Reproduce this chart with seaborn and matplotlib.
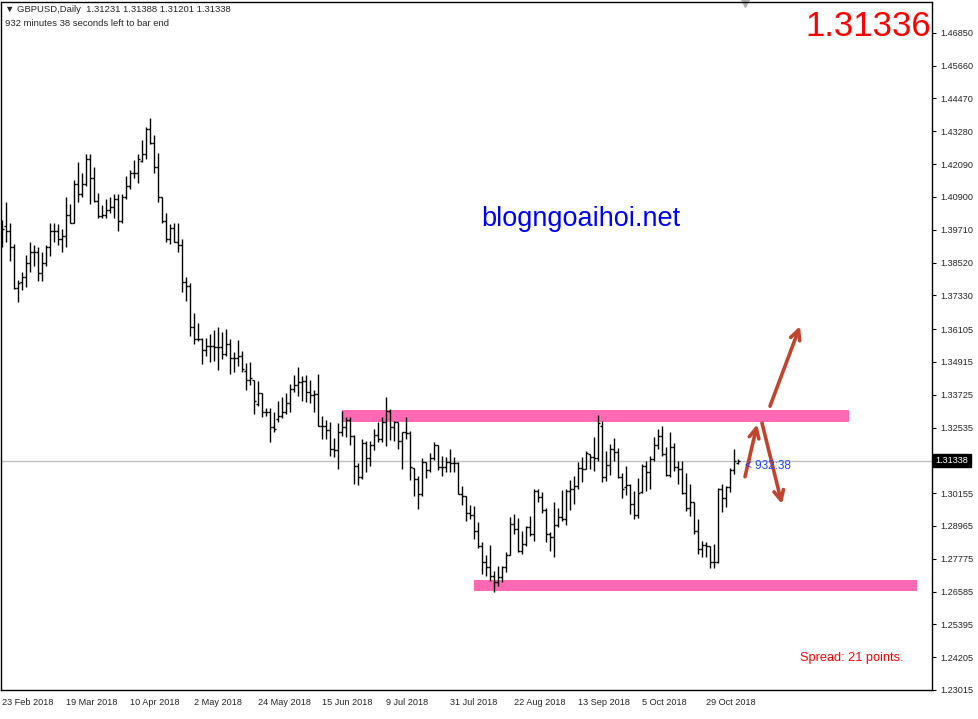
import numpy as np
import pandas as pd
import matplotlib
matplotlib.use("Agg")
import matplotlib.pyplot as plt
from matplotlib.patches import Rectangle
import matplotlib.transforms as mtransforms
import seaborn as sns

# GBPUSD daily bars
first_day = "2018-02-23"
opens = [
    1.3936, 1.3983, 1.3965, 1.3910, 1.3758, 1.3780, 1.3798, 1.3849, 1.3889, 1.3889,
    1.3813, 1.3849, 1.3907, 1.3965, 1.3965, 1.3936, 1.3947, 1.4026, 1.3997, 1.4138,
    1.4102, 1.4138, 1.4229, 1.4157, 1.4077, 1.4019, 1.4023, 1.4044, 1.4055, 1.4081,
    1.4001, 1.4088, 1.4128, 1.4175, 1.4178, 1.4222, 1.4247, 1.4338, 1.4287, 1.4200,
    1.4088, 1.4001, 1.3939, 1.3979, 1.3925, 1.3914, 1.3780, 1.3766, 1.3617, 1.3574,
    1.3574, 1.3534, 1.3548, 1.3548, 1.3545, 1.3545, 1.3519, 1.3556, 1.3505, 1.3505,
    1.3512, 1.3458, 1.3425, 1.3425, 1.3338, 1.3378, 1.3309, 1.3309, 1.3255, 1.3284,
    1.3295, 1.3309, 1.3342, 1.3393, 1.3407, 1.3418, 1.3422, 1.3382, 1.3371, 1.3375,
    1.3259, 1.3259, 1.3244, 1.3175, 1.3172, 1.3237, 1.3255, 1.3280, 1.3223, 1.3114,
    1.3074, 1.3197, 1.3143, 1.3190, 1.3226, 1.3212, 1.3273, 1.3313, 1.3255, 1.3273,
    1.3204, 1.3237, 1.3233, 1.3107, 1.3067, 1.3013, 1.3128, 1.3099, 1.3143, 1.3190,
    1.3110, 1.3110, 1.3128, 1.3125, 1.3125, 1.3013, 1.3005, 1.2944, 1.2937, 1.2879,
    1.2824, 1.2766, 1.2748, 1.2716, 1.2694, 1.2712, 1.2748, 1.2792, 1.2904, 1.2886,
    1.2806, 1.2832, 1.2893, 1.2868, 1.3023, 1.3002, 1.2955, 1.2868, 1.2857, 1.2900,
    1.2929, 1.2922, 1.3023, 1.3031, 1.3041, 1.3107, 1.3103, 1.3157, 1.3147, 1.3143,
    1.3259, 1.3074, 1.3118, 1.3175, 1.3165, 1.3074, 1.3038, 1.3045, 1.2976, 1.2937,
    1.3020, 1.3114, 1.3092, 1.3139, 1.3190, 1.3223, 1.3157, 1.3081, 1.3183, 1.3110,
    1.3103, 1.3016, 1.2962, 1.2984, 1.2879, 1.2814, 1.2828, 1.2824, 1.2766, 1.2766,
    1.3031, 1.2998, 1.3038, 1.3099, 1.31231,
]
highs = [
    1.4005, 1.4070, 1.3997, 1.3918, 1.3787, 1.3816, 1.3878, 1.3928, 1.3914, 1.3910,
    1.3889, 1.3914, 1.3997, 1.3997, 1.3990, 1.3975, 1.4088, 1.4066, 1.4153, 1.4218,
    1.4178, 1.4247, 1.4247, 1.4200, 1.4106, 1.4059, 1.4084, 1.4091, 1.4099, 1.4099,
    1.4102, 1.4167, 1.4189, 1.4225, 1.4247, 1.4298, 1.4345, 1.4377, 1.4316, 1.4251,
    1.4091, 1.4033, 1.3990, 1.3997, 1.3997, 1.3936, 1.3798, 1.3776, 1.3668, 1.3632,
    1.3577, 1.3577, 1.3592, 1.3606, 1.3617, 1.3599, 1.3610, 1.3574, 1.3527, 1.3570,
    1.3530, 1.3487, 1.3490, 1.3425, 1.3422, 1.3378, 1.3324, 1.3324, 1.3309, 1.3349,
    1.3364, 1.3378, 1.3411, 1.3443, 1.3472, 1.3440, 1.3443, 1.3425, 1.3389, 1.3447,
    1.3295, 1.3280, 1.3273, 1.3215, 1.3270, 1.3313, 1.3291, 1.3291, 1.3226, 1.3125,
    1.3212, 1.3204, 1.3204, 1.3248, 1.3273, 1.3291, 1.3364, 1.3320, 1.3277, 1.3273,
    1.3237, 1.3291, 1.3240, 1.3107, 1.3078, 1.3143, 1.3128, 1.3161, 1.3201, 1.3190,
    1.3150, 1.3147, 1.3175, 1.3147, 1.3128, 1.3041, 1.3005, 1.2973, 1.2969, 1.2911,
    1.2839, 1.2792, 1.2828, 1.2734, 1.2752, 1.2752, 1.2803, 1.2929, 1.2940, 1.2926,
    1.2879, 1.2897, 1.2933, 1.3031, 1.3031, 1.3020, 1.2962, 1.2875, 1.2984, 1.2962,
    1.3027, 1.3031, 1.3063, 1.3078, 1.3128, 1.3147, 1.3168, 1.3157, 1.3219, 1.3299,
    1.3277, 1.3168, 1.3194, 1.3215, 1.3179, 1.3089, 1.3114, 1.3049, 1.3023, 1.3070,
    1.3121, 1.3132, 1.3150, 1.3219, 1.3248, 1.3259, 1.3183, 1.3237, 1.3197, 1.3132,
    1.3132, 1.3089, 1.3049, 1.2984, 1.2922, 1.2842, 1.2839, 1.2824, 1.2832, 1.3034,
    1.3049, 1.3041, 1.3107, 1.3175, 1.31388,
]
lows = [
    1.3907, 1.3925, 1.3856, 1.3755, 1.3708, 1.3751, 1.3762, 1.3816, 1.3838, 1.3784,
    1.3784, 1.3838, 1.3874, 1.3925, 1.3914, 1.3889, 1.3910, 1.3994, 1.3997, 1.4073,
    1.4088, 1.4131, 1.4066, 1.4073, 1.4012, 1.4012, 1.4015, 1.4033, 1.4012, 1.3965,
    1.3997, 1.4081, 1.4117, 1.4160, 1.4142, 1.4218, 1.4229, 1.4283, 1.4175, 1.4070,
    1.3997, 1.3925, 1.3918, 1.3925, 1.3892, 1.3744, 1.3711, 1.3585, 1.3556, 1.3566,
    1.3483, 1.3512, 1.3490, 1.3494, 1.3461, 1.3501, 1.3512, 1.3447, 1.3454, 1.3476,
    1.3454, 1.3389, 1.3407, 1.3302, 1.3331, 1.3291, 1.3295, 1.3201, 1.3237, 1.3273,
    1.3288, 1.3302, 1.3309, 1.3382, 1.3367, 1.3349, 1.3346, 1.3342, 1.3309, 1.3259,
    1.3212, 1.3212, 1.3150, 1.3147, 1.3103, 1.3223, 1.3219, 1.3190, 1.3049, 1.3045,
    1.3067, 1.3092, 1.3114, 1.3172, 1.3201, 1.3201, 1.3186, 1.3208, 1.3204, 1.3175,
    1.3103, 1.3212, 1.3063, 1.3005, 1.2958, 1.3005, 1.3070, 1.3092, 1.3136, 1.3099,
    1.3078, 1.3092, 1.3092, 1.3092, 1.3013, 1.2973, 1.2915, 1.2922, 1.2850, 1.2817,
    1.2723, 1.2716, 1.2698, 1.2658, 1.2680, 1.2694, 1.2730, 1.2792, 1.2868, 1.2803,
    1.2795, 1.2824, 1.2861, 1.2842, 1.2984, 1.2944, 1.2839, 1.2806, 1.2784, 1.2893,
    1.2915, 1.2900, 1.2955, 1.2976, 1.3031, 1.3056, 1.3103, 1.3103, 1.3096, 1.3132,
    1.3056, 1.3060, 1.3081, 1.3132, 1.3070, 1.2998, 1.3009, 1.2940, 1.2922, 1.2926,
    1.3016, 1.3023, 1.3031, 1.3132, 1.3175, 1.3150, 1.3078, 1.3074, 1.3096, 1.3049,
    1.3013, 1.2951, 1.2933, 1.2868, 1.2795, 1.2784, 1.2784, 1.2745, 1.2745, 1.2763,
    1.2947, 1.2965, 1.3020, 1.3085, 1.31201,
]
closes = [
    1.3972, 1.3965, 1.3910, 1.3758, 1.3776, 1.3798, 1.3849, 1.3889, 1.3889, 1.3813,
    1.3849, 1.3907, 1.3965, 1.3965, 1.3936, 1.3947, 1.4026, 1.3997, 1.4138, 1.4102,
    1.4138, 1.4229, 1.4157, 1.4077, 1.4019, 1.4023, 1.4044, 1.4055, 1.4081, 1.4001,
    1.4088, 1.4128, 1.4175, 1.4178, 1.4229, 1.4247, 1.4338, 1.4287, 1.4200, 1.4088,
    1.4001, 1.3939, 1.3979, 1.3925, 1.3914, 1.3780, 1.3766, 1.3617, 1.3574, 1.3574,
    1.3534, 1.3548, 1.3548, 1.3545, 1.3545, 1.3519, 1.3556, 1.3505, 1.3505, 1.3512,
    1.3465, 1.3425, 1.3432, 1.3349, 1.3378, 1.3309, 1.3309, 1.3255, 1.3248, 1.3295,
    1.3309, 1.3342, 1.3393, 1.3407, 1.3418, 1.3422, 1.3382, 1.3371, 1.3375, 1.3259,
    1.3259, 1.3244, 1.3175, 1.3172, 1.3237, 1.3255, 1.3280, 1.3223, 1.3114, 1.3074,
    1.3197, 1.3143, 1.3190, 1.3226, 1.3212, 1.3273, 1.3313, 1.3255, 1.3273, 1.3204,
    1.3237, 1.3233, 1.3110, 1.3067, 1.3013, 1.3128, 1.3099, 1.3143, 1.3190, 1.3110,
    1.3110, 1.3128, 1.3125, 1.3125, 1.3013, 1.3005, 1.2944, 1.2937, 1.2879, 1.2824,
    1.2766, 1.2748, 1.2716, 1.2694, 1.2712, 1.2748, 1.2792, 1.2904, 1.2886, 1.2806,
    1.2832, 1.2893, 1.2868, 1.3023, 1.3002, 1.2955, 1.2868, 1.2857, 1.2900, 1.2929,
    1.2922, 1.3023, 1.3031, 1.3041, 1.3107, 1.3103, 1.3161, 1.3147, 1.3143, 1.3270,
    1.3074, 1.3118, 1.3175, 1.3165, 1.3074, 1.3031, 1.3045, 1.2976, 1.2937, 1.3016,
    1.3114, 1.3092, 1.3139, 1.3190, 1.3223, 1.3157, 1.3081, 1.3183, 1.3110, 1.3103,
    1.3016, 1.2962, 1.2984, 1.2879, 1.2814, 1.2828, 1.2824, 1.2766, 1.2766, 1.3031,
    1.2998, 1.3038, 1.3099, 1.3132, 1.31338,
]

# right price scale as printed by the terminal
price_ticks = [1.46850, 1.45660, 1.44470, 1.43280, 1.42090, 1.40900, 1.39710,
               1.38520, 1.37330, 1.36105, 1.34915, 1.33725, 1.32535, 1.30155,
               1.28965, 1.27775, 1.26585, 1.25395, 1.24205, 1.23015]

# drawn zones: (first bar, last bar, bottom price, top price)
zones = [(85, 211.75, 1.3273, 1.3317), (118, 228.75, 1.2662, 1.2702)]
# hand drawn arrows: (bar, price) -> (bar, price)
arrows = [((185.75, 1.3075), (188.8, 1.3265)),
          ((190.0, 1.3270), (195.0, 1.2976)),
          ((192.0, 1.3331), (199.5, 1.3621))]

bid_price = 1.31336
timer_text = "932:38"
spread_points = 21

df = pd.DataFrame({"date": pd.bdate_range(first_day, periods=len(opens)),
                   "open": opens, "high": highs, "low": lows, "close": closes})
df["x"] = np.arange(len(df))

sns.set_style("white")
plt.rcParams["font.family"] = ["Liberation Sans", "DejaVu Sans"]

fig = plt.figure(figsize=(9.79, 7.19), dpi=100)
ax = fig.add_axes([1 / 979, 29 / 719, 931 / 979, 688 / 719])

# bars
ax.vlines(df["x"], df["low"], df["high"], color="black", lw=1.0)
ax.hlines(df["open"], df["x"] - 0.45, df["x"], color="black", lw=1.0)
ax.hlines(df["close"], df["x"], df["x"] + 0.45, color="black", lw=1.0)

for x0, x1, lo, hi in zones:
    ax.add_patch(Rectangle((x0, lo), x1 - x0, hi - lo, color="#ff69b4", lw=0, zorder=0.5))

last = df["close"].iloc[-1]
ax.axhline(last, color="#c0c0c0", lw=1, zorder=0.4)

for (sx, sy), (ex, ey) in arrows:
    ax.annotate("", xy=(ex, ey), xytext=(sx, sy),
                arrowprops=dict(arrowstyle="->,head_length=0.7,head_width=0.35",
                                color="#c0452e", lw=2.6, shrinkA=0, shrinkB=0))

ax.set_xlim(-0.25, 232.5)
ax.set_ylim(1.2307, 1.4797)

# x axis: date every 16 bars, left aligned at the tick
xt = df["x"][::16]
ax.set_xticks(xt)
ax.set_xticklabels([f"{d.day} {d:%b %Y}" for d in df["date"][::16]],
                   ha="left", fontsize=6.6)
ax.tick_params(axis="x", direction="out", length=4, width=0.8, pad=2, color="black")

ax.yaxis.tick_right()
ax.set_yticks(price_ticks)
ax.set_yticklabels([f"{p:.5f}" for p in price_ticks], fontsize=6.6)
ax.tick_params(axis="y", direction="out", length=3, width=0.8, pad=3, color="black")

for s in ax.spines.values():
    s.set_visible(True)
    s.set_color("black")
    s.set_linewidth(1)

# current price box on the scale
trans = mtransforms.blended_transform_factory(ax.transAxes, ax.transData)
ax.text(1.004, last, f"{last:.5f}", transform=trans, color="white", fontsize=6.6,
        va="center", ha="left",
        bbox=dict(boxstyle="square,pad=0.25", fc="black", ec="black"))

# timer next to the last bar
ax.text(185.8, last - 0.0018, f"< {timer_text}", color="#2343ff", fontsize=8.5,
        va="center", ha="left")

# chart header
ax.text(0.004, 0.996, "▼ GBPUSD,Daily  " + " ".join(f"{v:.5f}" for v in
        [opens[-1], highs[-1], lows[-1], closes[-1]]),
        transform=ax.transAxes, fontsize=6.8, va="top", ha="left")
ax.text(0.004, 0.976, "932 minutes 38 seconds left to bar end",
        transform=ax.transAxes, fontsize=6.8, va="top", ha="left")

ax.text(0.9985, 0.988, f"{bid_price:.5f}", transform=ax.transAxes, color="#ff0000",
        fontsize=25, va="top", ha="right")
ax.text(0.623, 0.684, "blogngoaihoi.net", transform=ax.transAxes, color="#0000ff",
        fontsize=19.5, va="center", ha="center")
ax.text(0.969, 0.0465, f"Spread: {spread_points} points.", transform=ax.transAxes,
        color="#ff0000", fontsize=9.2, va="center", ha="right")

# shift marker at the top
ax.plot([185.75], [1.0], marker="v", ms=7, color="#b0b0b0",
        transform=mtransforms.blended_transform_factory(ax.transData, ax.transAxes),
        clip_on=False)

fig.savefig("out.png", dpi=100)
